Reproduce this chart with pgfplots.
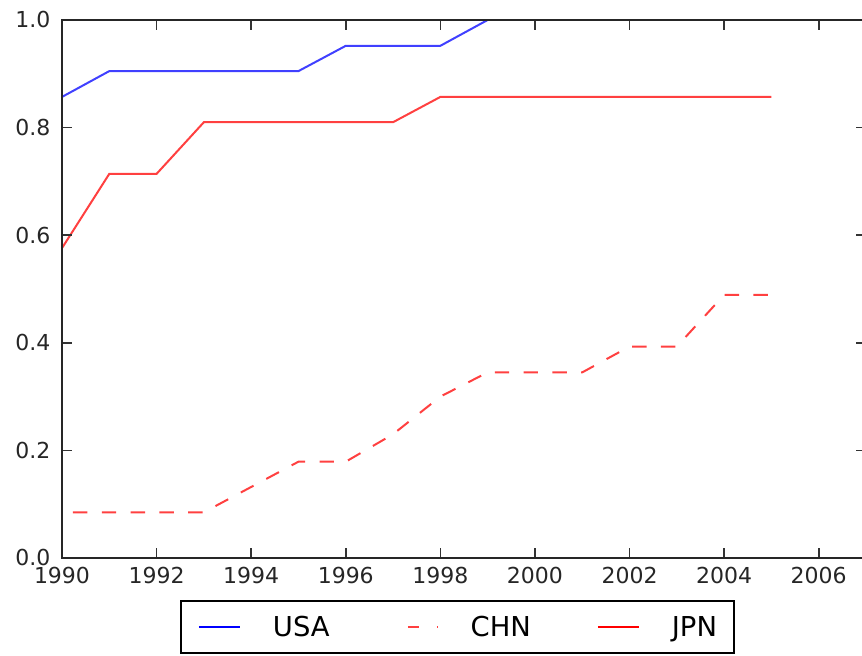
\documentclass[border=0pt]{standalone}
\usepackage{pgfplots}
\pgfplotsset{compat=1.18}
\usepackage{fontspec}
\setmainfont{DejaVu Sans}
\begin{document}
\begin{tikzpicture}
\useasboundingbox (-31pt,-49pt) rectangle (400pt,279pt);
\begin{axis}[
  at={(0pt,0pt)}, anchor=south west,
  scale only axis, width=402pt, height=269pt,
  xmin=1990, xmax=2007, ymin=0, ymax=1,
  axis on top,
  xtick={1990,1992,...,2006},
  ytick={0,0.2,0.4,0.6,0.8,1.0},
  /pgf/number format/assume math mode=true,
  xticklabel style={/pgf/number format/1000 sep={}, yshift=-1.3pt},
  yticklabel style={/pgf/number format/.cd, fixed, fixed zerofill, precision=1, /tikz/.cd, xshift=-2.3pt},
  tick label style={font=\fontsize{11}{13}\selectfont, text=black!85},
  tick align=inside, tick pos=both,
  major tick length=5pt,
  tick style={black!80, line width=0.8pt},
  axis line style={black!85, line width=1.2pt},
  every axis plot/.append style={line width=1pt,
    legend image code/.code={\draw[#1, draw opacity=1] (0pt,0pt) -- (20.5pt,0pt);}},
  legend columns=3,
  legend style={at={(0.5,0)}, anchor=north, yshift=-21pt, xshift=-3.25pt,
    draw=black, line width=1pt, fill=white,
    font=\fontsize{13.7}{16}\selectfont,
    inner xsep=8.5pt, inner ysep=8pt,
    nodes={inner sep=0pt, text height=10pt, text depth=0pt},
    /tikz/every odd column/.append style={column sep=16pt},
    /tikz/every even column/.append style={column sep=33pt}},
]
\addplot[blue, draw opacity=0.75] coordinates {
(1990,0.857) (1991,0.905) (1992,0.905) (1993,0.905) (1994,0.905) (1995,0.905)
(1996,0.952) (1997,0.952) (1998,0.952) (1999,1.0) (2000,1.0) (2001,1.0)
(2002,1.0) (2003,1.0) (2004,1.0) (2005,1.0)};
\addlegendentry{USA}
\addplot[red, draw opacity=0.75, dash pattern=on 7.2pt off 7.2pt, dash phase=8.9pt,
  legend image code/.code={\draw[red, line width=1pt, dash pattern=on 5.5pt off 9pt] (0pt,0pt) -- (20.5pt,0pt);}] coordinates {
(1990,0.085) (1991,0.085) (1992,0.085) (1993,0.085) (1994,0.132) (1995,0.179)
(1996,0.179) (1997,0.230) (1998,0.300) (1999,0.345) (2000,0.345) (2001,0.345)
(2002,0.393) (2003,0.393) (2004,0.489) (2005,0.489)};
\addlegendentry{CHN}
\addplot[red, draw opacity=0.75] coordinates {
(1990,0.576) (1991,0.714) (1992,0.714) (1993,0.810) (1994,0.810) (1995,0.810)
(1996,0.810) (1997,0.810) (1998,0.857) (1999,0.857) (2000,0.857) (2001,0.857)
(2002,0.857) (2003,0.857) (2004,0.857) (2005,0.857)};
\addlegendentry{JPN}
\end{axis}
\end{tikzpicture}
\end{document}
